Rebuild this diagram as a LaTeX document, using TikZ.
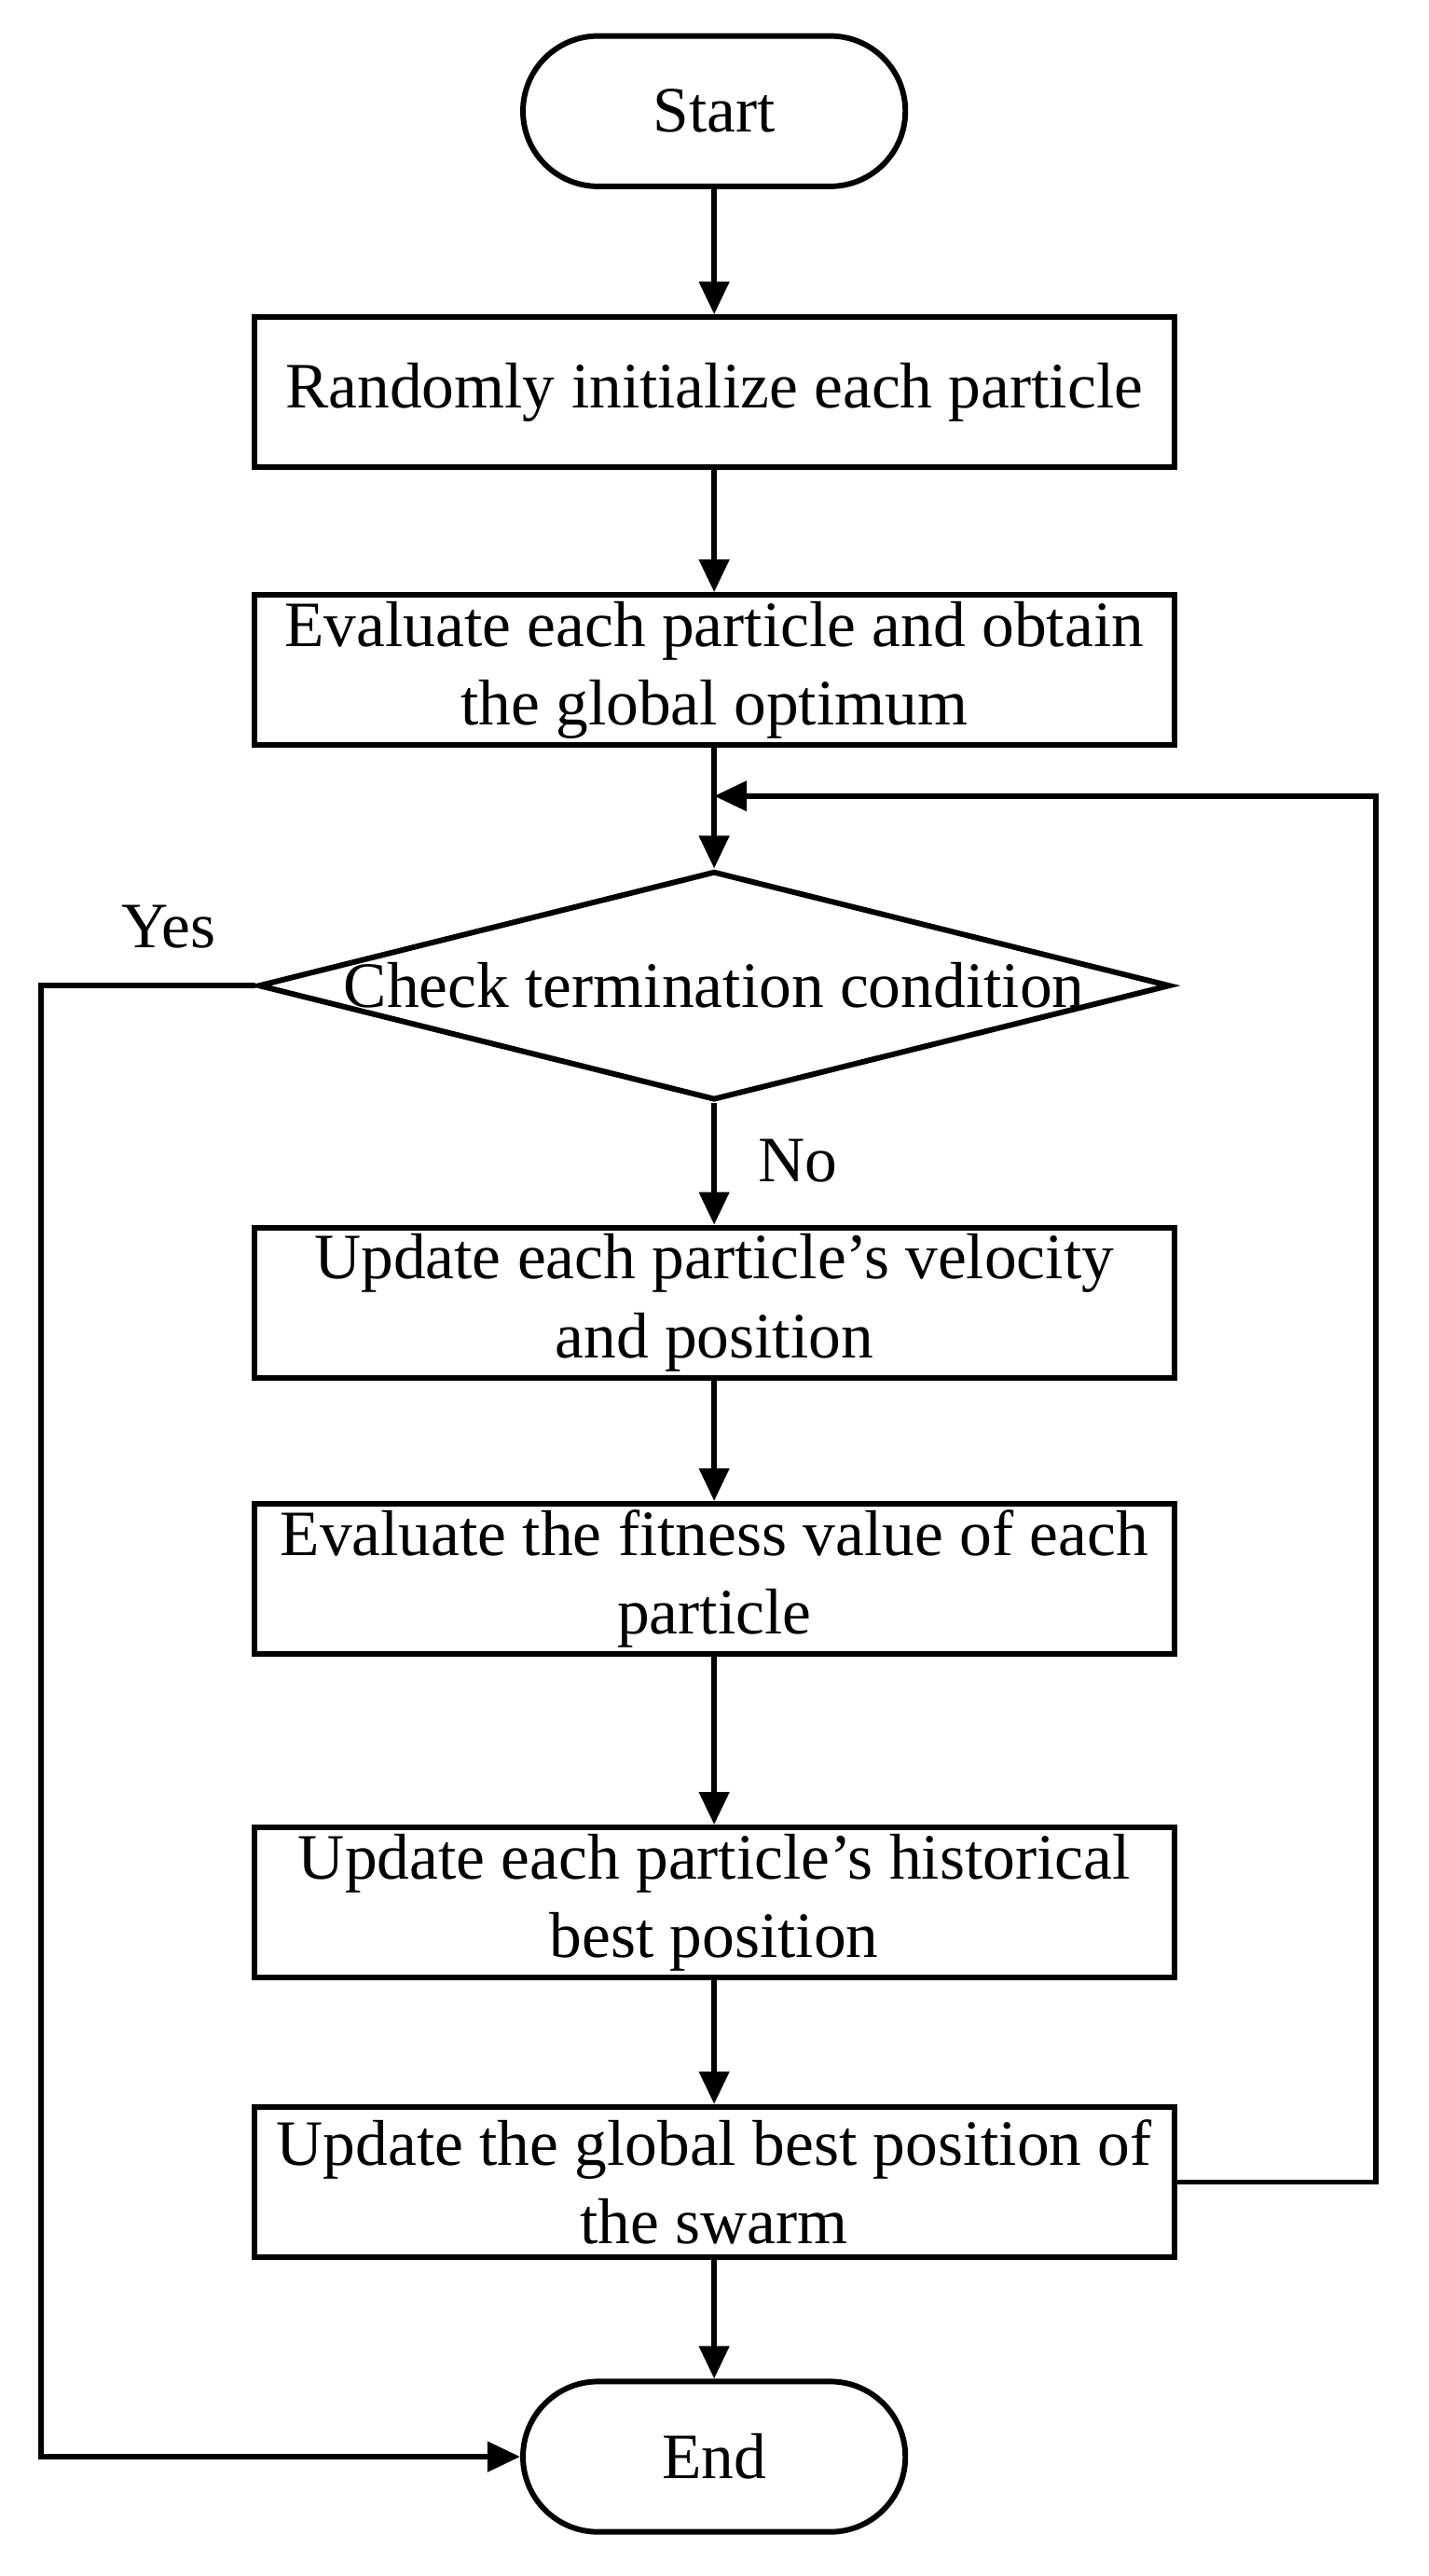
\documentclass[tikz,border=0pt]{standalone}
\usepackage{fontspec}
\setmainfont{Liberation Serif}
\usetikzlibrary{shapes.geometric,arrows.meta}
\begin{document}
\begin{tikzpicture}[x=0.5pt,y=-0.5pt,
  box/.style={draw,line width=1.7pt,minimum width=281.5pt,minimum height=46pt,align=center,font=\fontsize{19.8}{24}\selectfont,inner sep=0pt},
  term/.style={draw,line width=1.7pt,rounded corners=23pt,minimum width=117pt,minimum height=46pt,font=\fontsize{19.8}{24}\selectfont},
  arr/.style={line width=1.7pt,-{Triangle[length=10pt,width=9pt]}},
  lbl/.style={font=\fontsize{19.8}{24}\selectfont}]
\useasboundingbox (0,0) rectangle (874,1576);
\node[term] (start) at (437,68) {Start};
\node[box] (b1) at (437,240) {Randomly initialize each particle};
\node[box] (b2) at (437,410) {Evaluate each particle and obtain\\the global optimum};
\node[draw,line width=1.7pt,diamond,aspect=4,minimum width=279pt,minimum height=70pt,inner sep=0pt,font=\fontsize{19.8}{24}\selectfont] (d) at (437,603) {};
\node[font=\fontsize{19.8}{24}\selectfont] (dt) at (437,603) {Check termination condition};
\node[box] (b3) at (437,797) {Update each particle’s velocity\\and position};
\node[box] (b4) at (437,966) {Evaluate the fitness value of each\\particle};
\node[box] (b5) at (437,1164) {Update each particle’s historical\\best position};
\node[box] (b6) at (437,1335) {Update the global best position of\\the swarm};
\node[term] (end) at (437,1503) {End};
\coordinate (m) at (437,487);
\draw[arr] (start) -- (b1);
\draw[arr] (b1) -- (b2);
\draw[line width=1.7pt] (b2) -- (m);
\draw[arr] (m) -- (d);
\draw[arr] (d) -- (b3);
\draw[arr] (b3) -- (b4);
\draw[arr] (b4) -- (b5);
\draw[arr] (b5) -- (b6);
\draw[arr] (b6) -- (end);
\draw[arr] (b6.east) -- (842,1335) -- (842,487) -- (m);
\draw[arr] (d.west) -- (25,603) -- (25,1503) -- (end.west);
\node[lbl] (yes) at (103,567) {Yes};
\node[lbl] (no) at (488,710) {No};
\end{tikzpicture}
\end{document}
